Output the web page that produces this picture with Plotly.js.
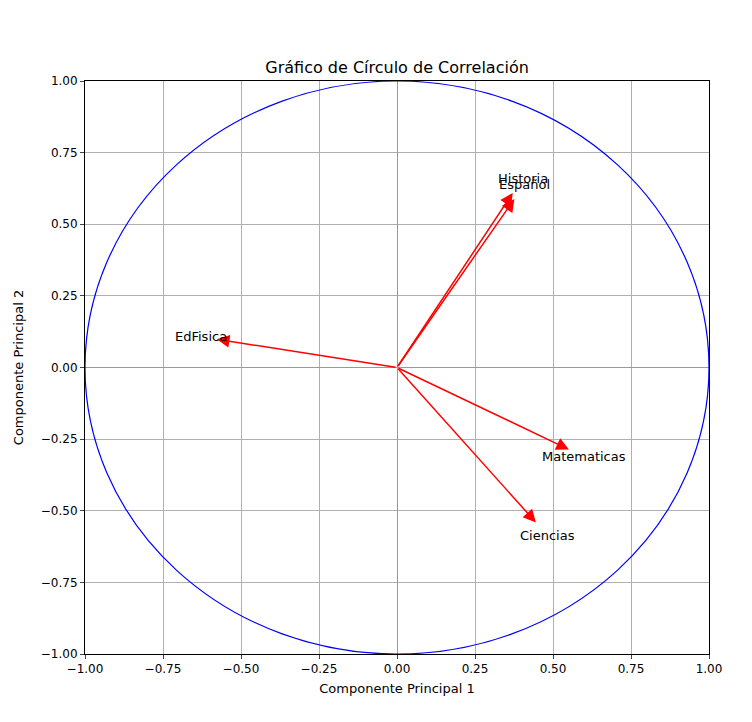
<!DOCTYPE html>
<html><head><meta charset="utf-8">
<script src="https://cdn.plot.ly/plotly-3.0.1.min.js"></script>
<style>body{margin:0}</style></head>
<body><div id="chart" style="width:752px;height:722px"></div>
<script>
const variables = ['Historia','Español','EdFisica','Matematicas','Ciencias'];
const pc1 = [0.35, 0.355, -0.545, 0.52, 0.42];
const pc2 = [0.575, 0.555, 0.093, -0.27, -0.51];
const tipScale = 1.06;
const labelScale = 1.15;
const tickVals = [-1,-0.75,-0.5,-0.25,0,0.25,0.5,0.75,1];

const annotations = [];
variables.forEach((v,i)=>{
  annotations.push({x:pc1[i]*tipScale, y:pc2[i]*tipScale, ax:0, ay:0, axref:'x', ayref:'y', xref:'x', yref:'y',
    showarrow:true, arrowhead:2, arrowsize:1.7, arrowwidth:1.5, arrowcolor:'red', text:''});
  annotations.push({x:pc1[i]*labelScale, y:pc2[i]*labelScale, xref:'x', yref:'y', text:v,
    showarrow:false, font:{size:13, color:'black'}});
});

const axis = {range:[-1,1], tickvals:tickVals, tickformat:'.2f', showgrid:true, gridcolor:'#b0b0b0',
  zeroline:true, zerolinecolor:'#999', zerolinewidth:1, showline:true, linecolor:'black', mirror:true,
  ticks:'outside', ticklen:4, tickfont:{size:12, color:'black'}};

Plotly.newPlot('chart', [{x:[0], y:[0], mode:'markers', marker:{opacity:0}, hoverinfo:'skip', showlegend:false}], {
  width:752, height:722,
  margin:{l:85, r:43, t:81, b:68},
  font:{family:'DejaVu Sans', color:'black'},
  title:{text:'Gráfico de Círculo de Correlación', font:{size:16}, x:0.528, y:0.915, xanchor:'center'},
  xaxis:{...axis, title:{text:'Componente Principal 1', font:{size:13}, standoff:8}},
  yaxis:{...axis, title:{text:'Componente Principal 2', font:{size:13}, standoff:14}},
  shapes:[{type:'circle', xref:'x', yref:'y', x0:-1, y0:-1, x1:1, y1:1, line:{color:'blue', width:1.2}}],
  annotations:annotations,
  plot_bgcolor:'white', paper_bgcolor:'white'
}, {displayModeBar:false});
</script></body></html>
